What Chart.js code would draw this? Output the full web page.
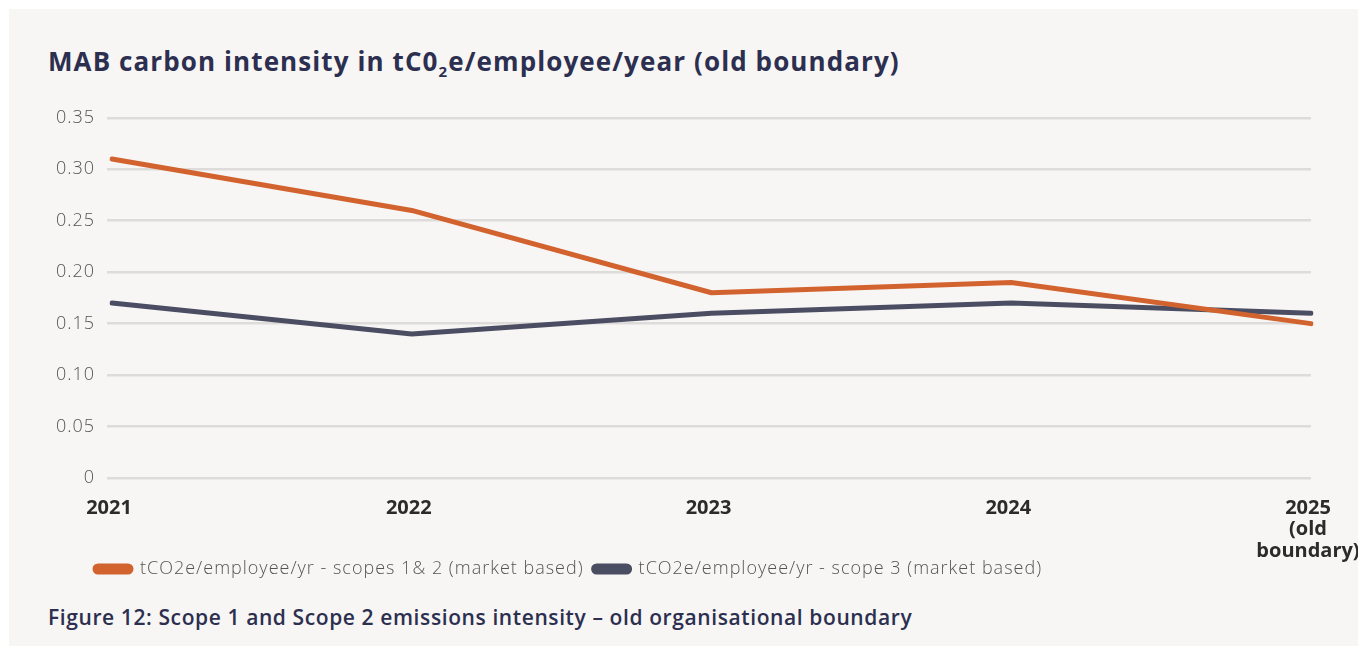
<!DOCTYPE html>
<html>
<head>
<meta charset="utf-8">
<script src="https://cdn.jsdelivr.net/npm/chart.js@4.4.1/dist/chart.umd.min.js"></script>
<style>
  html, body { margin: 0; padding: 0; background: #ffffff; width: 1358px; height: 648px; overflow: hidden; }
  #panel { position: absolute; left: 9px; top: 9px; right: 0; bottom: 2px; background: #f7f6f4; }
  #title { position: absolute; left: 48px; top: 48px; margin: 0; font-family: "Open Sans", sans-serif; font-weight: 700; font-size: 26px; color: #2c2f4f; white-space: nowrap; line-height: 1; letter-spacing: 1.1px; }
  #title sub { font-size: 15px; vertical-align: -6px; line-height: 0; }
  #caption { position: absolute; left: 48px; top: 607px; margin: 0; font-family: "Open Sans", sans-serif; font-weight: 600; font-size: 21px; color: #2c2f4f; white-space: nowrap; line-height: 1; letter-spacing: 0.6px; }
  #wrap { position: absolute; left: 0; top: 95px; width: 1358px; height: 493px; }
</style>
</head>
<body>
<div id="panel"></div>
<div id="title">MAB carbon intensity in tC0<sub>2</sub>e/employee/year (old boundary)</div>
<div id="wrap"><canvas id="c"></canvas></div>
<div id="caption">Figure 12: Scope 1 and Scope 2 emissions intensity – old organisational boundary</div>
<script>
const categories = ["2021", "2022", "2023", "2024", ["2025", "(old", "boundary)"]];
const seriesNames = [
  "tCO2e/employee/yr - scopes 1& 2 (market based)",
  "tCO2e/employee/yr - scope 3 (market based)"
];
const scopes12 = [0.31, 0.26, 0.18, 0.19, 0.15];
const scope3 = [0.17, 0.14, 0.16, 0.17, 0.16];
const yTicks = [0, 0.05, 0.10, 0.15, 0.20, 0.25, 0.30, 0.35];

const orange = "#d2632f";
const slate = "#4b4e63";

const spacing = {
  id: "spacing",
  beforeUpdate(chart) { chart.ctx.letterSpacing = "1px"; },
  beforeLayout(chart) { chart.ctx.letterSpacing = "1px"; },
  beforeDraw(chart) { chart.ctx.letterSpacing = "1px"; }
};

const legendShift = {
  id: "legendShift",
  afterLayout(chart) {
    const l = chart.legend;
    if (l) { l.left = 85; }
  }
};

new Chart(document.getElementById("c"), {
  type: "line",
  data: {
    labels: categories,
    datasets: [
      { label: seriesNames[0], data: scopes12, borderColor: orange, backgroundColor: orange, borderWidth: 5, pointRadius: 0, borderCapStyle: "round", borderJoinStyle: "round", tension: 0 },
      { label: seriesNames[1], data: scope3, borderColor: slate, backgroundColor: slate, borderWidth: 5, pointRadius: 0, borderCapStyle: "round", borderJoinStyle: "round", tension: 0 }
    ]
  },
  options: {
    responsive: true,
    maintainAspectRatio: false,
    animation: false,
    layout: { padding: { top: 20, left: 0, right: 0, bottom: 0 } },
    plugins: {
      tooltip: { enabled: false },
      legend: {
        position: "bottom",
        align: "start",
        labels: {
          boxWidth: 36,
          boxHeight: 6,
          useBorderRadius: true,
          borderRadius: 3,
          padding: 10,
          color: "#555555",
          font: { family: "'Open Sans', sans-serif", size: 18, weight: 300 }
        }
      }
    },
    scales: {
      x: {
        type: "category",
        offset: false,
        grid: { display: false, drawTicks: false },
        border: { display: false },
        ticks: {
          maxRotation: 0,
          autoSkip: false,
          padding: 19,
          labelOffset: -3,
          color: "#2b2b2b",
          font: { family: "'Open Sans', sans-serif", size: 20, weight: 700, lineHeight: 1.08 }
        },
        afterFit(scale) {
          scale.height = 72;
          scale.paddingLeft = 0;
          scale.paddingRight = 47;
          scale._computeLabelArea = function () { return undefined; };
          if (!scale._wrappedLabels) {
            const orig = scale.drawLabels;
            scale.drawLabels = function (area) {
              const c = this.ctx;
              const prev = c.letterSpacing;
              c.letterSpacing = "0px";
              orig.call(this, area);
              c.letterSpacing = prev;
            };
            scale._wrappedLabels = true;
          }
        }
      },
      y: {
        min: 0,
        max: 0.35,
        afterBuildTicks(scale) { scale.ticks = yTicks.map(v => ({ value: v })); },
        grid: { color: "#dddcda", lineWidth: 2.5, drawTicks: true, tickLength: 5 },
        border: { display: false },
        ticks: {
          padding: 12,
          color: "#555555",
          font: { family: "'Open Sans', sans-serif", size: 18, weight: 300 },
          callback(v) { return v === 0 ? "0" : v.toFixed(2); }
        },
        afterFit(scale) { scale.width = 112; }
      }
    }
  },
  plugins: [spacing, legendShift]
});
</script>
</body>
</html>
